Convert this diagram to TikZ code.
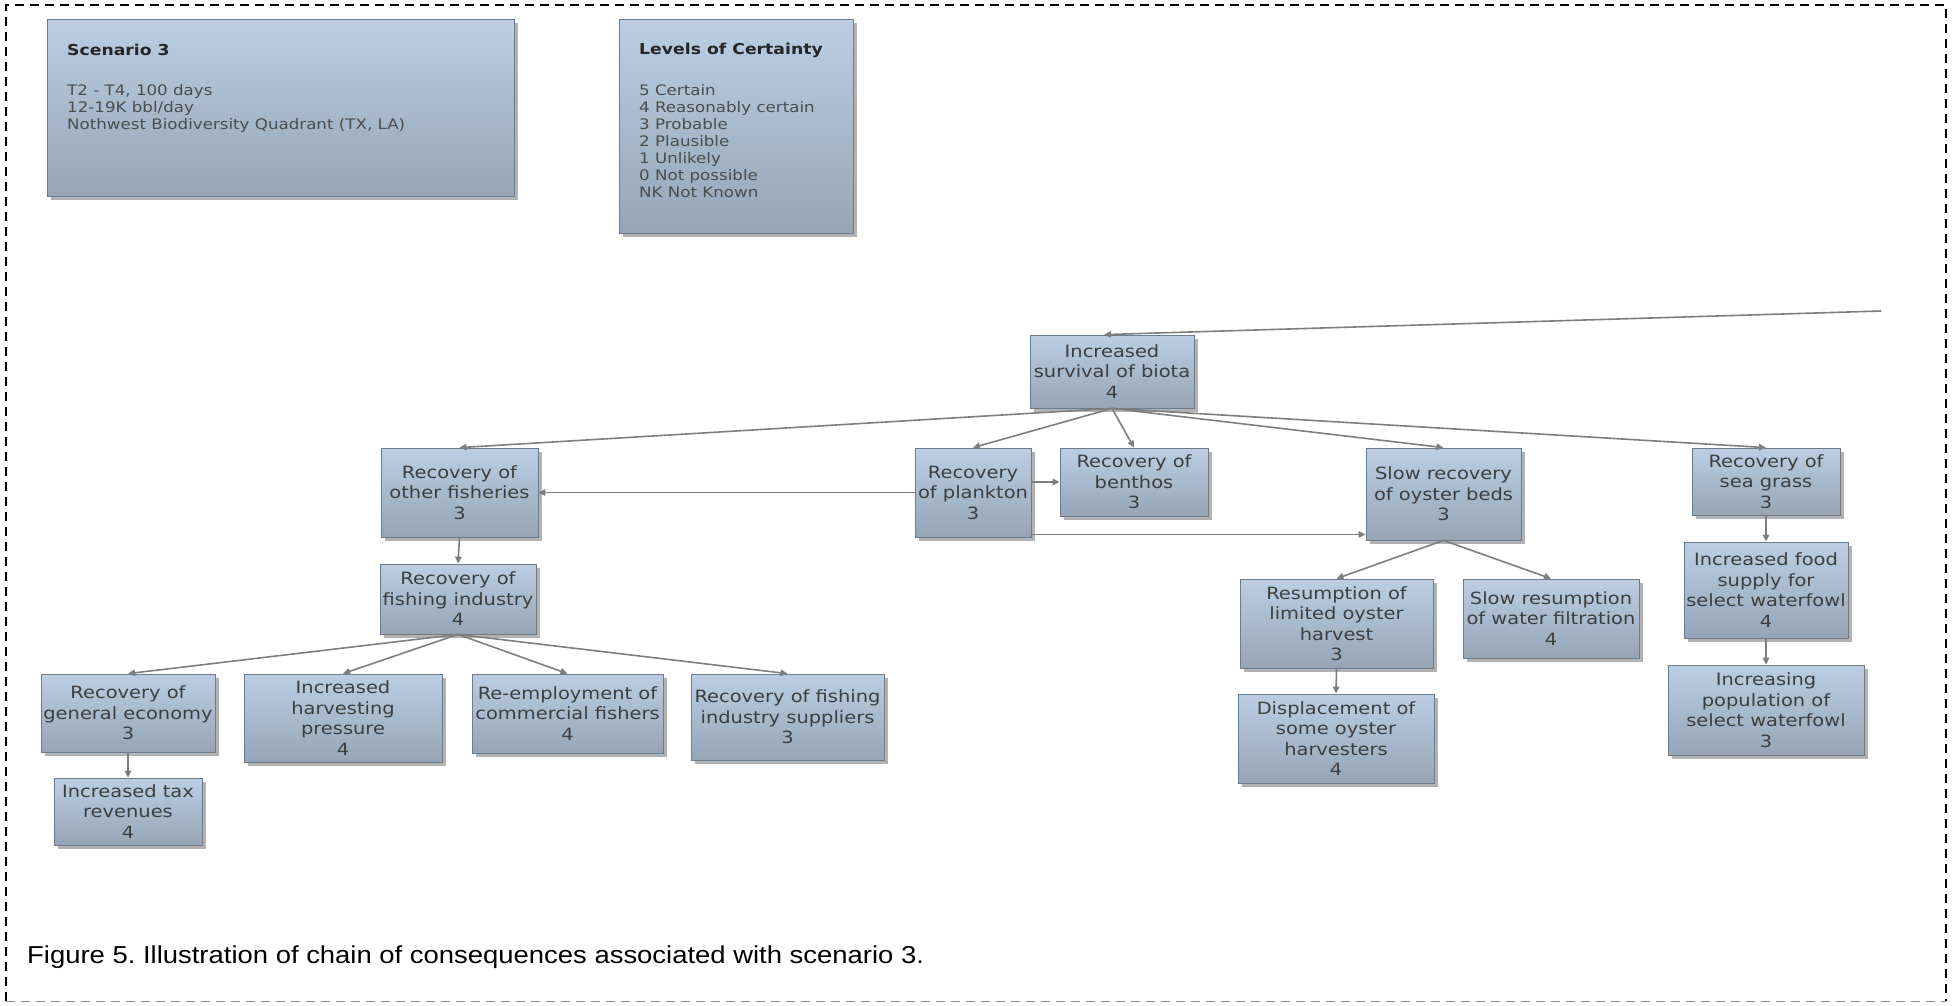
\documentclass[tikz,border=0pt]{standalone}
\usepackage{fontspec}
\setmainfont{DejaVu Sans}[FakeStretch=1.15]
\newfontfamily\capfont{Liberation Sans}[FakeStretch=1.12]
\usetikzlibrary{arrows.meta,shadows,calc}

\definecolor{boxtop}{HTML}{BBCEE4}
\definecolor{boxbot}{HTML}{95A5B6}
\definecolor{boxline}{HTML}{6E7B88}
\definecolor{boxtext}{HTML}{3E3E3E}
\definecolor{conncol}{HTML}{7E7E7E}

\tikzset{
  cbox/.style={draw=boxline, line width=0.8pt, top color=boxtop, bottom color=boxbot,
    drop shadow={shadow xshift=4pt, shadow yshift=-4pt, fill=black!55, opacity=0.55},
    inner sep=0pt, align=center, text=boxtext,
    font=\fontsize{16.9}{20.5}\selectfont},
  lbox/.style={cbox, anchor=north west},
  ltitle/.style={anchor=west, inner sep=0pt, text=black!85, font=\bfseries\fontsize{15}{17}\selectfont},
  ltext/.style={anchor=north west, inner sep=0pt, align=left, text=black!70,
    font=\fontsize{14.5}{17}\selectfont},
  conn/.style={draw=conncol, line width=1.6pt, -{Triangle[length=7pt,width=6.5pt]}},
  frame/.style={line width=1.4pt, dash pattern=on 9pt off 6pt},
}

% box from corner (#2,#3) to corner (#4,#5), in picture units
\newcommand\cnode[6]{%
  \node[cbox, minimum width={(#4-#2)*1pt}, minimum height={(#5-#3)*1pt}]
    (#1) at ({(#2+#4)/2},{(#3+#5)/2}) {#6};}

\begin{document}
\frenchspacing
\begin{tikzpicture}[x=1pt, y=-1pt]
\useasboundingbox (0,0) rectangle (1953,1005);

% dashed frame
\draw[frame] (6,1001) -- (6,5) -- (1946,5) -- (1946,1001);
\draw[frame, line width=1pt, draw=black!45] (6,1001) -- (1946,1001);

% legend boxes
\node[lbox, minimum width=467pt, minimum height=177pt] (scen) at (47,19) {};
\node[ltitle] (scentitle) at (67,50) {Scenario 3};
\node[ltext] (scenbody) at (67,84) {T2 - T4, 100 days\\12-19K bbl/day\\Nothwest Biodiversity Quadrant (TX, LA)};

\node[lbox, minimum width=234pt, minimum height=214pt] (levels) at (619,19) {};
\node[ltitle] (levtitle) at (639,50) {Levels of Certainty};
\node[ltext] (levbody) at (639,84) {5 Certain\\4 Reasonably certain\\3 Probable\\2 Plausible\\1 Unlikely\\0 Not possible\\NK Not Known};

% consequence nodes
\cnode{biota}{1030}{335}{1194}{408}{Increased\\survival of biota\\4}
\cnode{other}{381}{448}{538}{537}{Recovery of\\other fisheries\\3}
\cnode{plankton}{915}{448}{1031}{537}{Recovery\\of plankton\\3}
\cnode{benthos}{1060}{448}{1208}{516}{Recovery of\\benthos\\3}
\cnode{oysterbeds}{1366}{448}{1521}{540}{Slow recovery\\of oyster beds\\3}
\cnode{seagrass}{1692}{448}{1840}{515}{Recovery of\\sea grass\\3}
\cnode{fishind}{380}{564}{536}{634}{Recovery of\\fishing industry\\4}
\cnode{geneco}{41}{674}{215}{752}{Recovery of\\general economy\\3}
\cnode{harvest}{244}{674}{442}{762}{Increased\\harvesting\\pressure\\4}
\cnode{reemploy}{472}{674}{663}{753}{Re-employment of\\commercial fishers\\4}
\cnode{suppliers}{691}{674}{884}{760}{Recovery of fishing\\industry suppliers\\3}
\cnode{tax}{54}{778}{202}{845}{Increased tax\\revenues\\4}
\cnode{oysterharv}{1240}{579}{1433}{668}{Resumption of\\limited oyster\\harvest\\3}
\cnode{filtration}{1463}{579}{1639}{658}{Slow resumption\\of water filtration\\4}
\cnode{displace}{1238}{694}{1434}{783}{Displacement of\\some oyster\\harvesters\\4}
\cnode{food}{1684}{542}{1848}{638}{Increased food\\supply for\\select waterfowl\\4}
\cnode{population}{1668}{665}{1864}{755}{Increasing\\population of\\select waterfowl\\3}

% connectors
\coordinate (upstream) at (1881,311);
\draw[conn] (upstream) -- ([xshift=-8pt]biota.north);
\foreach \c in {other,plankton,benthos,oysterbeds,seagrass}
  \draw[conn] (biota.south) -- (\c.north);
\draw[conn] (plankton.west) -- (other.east);
\draw[conn] (plankton.east |- benthos.west) -- (benthos.west);
\coordinate (pk) at ([yshift=3pt]plankton.south east);
\draw[conn] (pk) -- (pk -| oysterbeds.west);
\draw[conn] (other.south) -- (fishind.north);
\foreach \c in {geneco,harvest,reemploy,suppliers}
  \draw[conn] (fishind.south) -- (\c.north);
\draw[conn] (geneco.south) -- (tax.north);
\draw[conn] (oysterbeds.south) -- (oysterharv.north);
\draw[conn] (oysterbeds.south) -- (filtration.north);
\draw[conn] (oysterharv.south) -- (displace.north);
\draw[conn] (seagrass.south) -- (food.north);
\draw[conn] (food.south) -- (population.north);

% caption
\node[anchor=west, inner sep=0pt, font=\capfont\fontsize{24.5}{30}\selectfont] (caption) at (27,957)
  {Figure 5. Illustration of chain of consequences associated with scenario 3.};
\end{tikzpicture}
\end{document}
